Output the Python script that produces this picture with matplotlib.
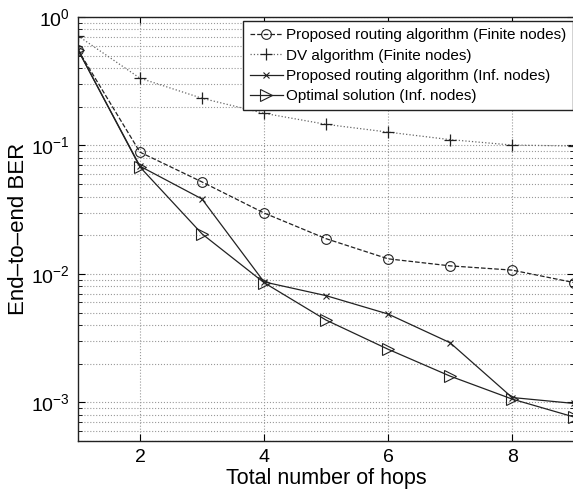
import matplotlib
matplotlib.use("Agg")
import matplotlib.pyplot as plt
from matplotlib.ticker import LogLocator, NullFormatter, FixedLocator

plt.rcParams['font.family'] = ['Liberation Sans', 'DejaVu Sans']
plt.rcParams['mathtext.fontset'] = 'custom'
plt.rcParams['mathtext.rm'] = 'Liberation Sans'

hops = [1, 2, 3, 4, 5, 6, 7, 8, 9]
prop_finite = [0.556, 0.0887, 0.052, 0.0298, 0.0188, 0.0131, 0.01155, 0.0107, 0.00855]
dv_finite = [0.714, 0.334, 0.233, 0.178, 0.146, 0.127, 0.111, 0.1007, 0.099]
prop_inf = [0.556, 0.069, 0.0383, 0.00866, 0.00677, 0.00487, 0.00291, 0.00109, 0.00098]
optimal_inf = [0.556, 0.068, 0.0205, 0.00855, 0.00437, 0.00259, 0.0016, 0.00106, 0.000768]

labels = ["Proposed routing algorithm (Finite nodes)",
          "DV algorithm (Finite nodes)",
          "Proposed routing algorithm (Inf. nodes)",
          "Optimal solution (Inf. nodes)"]
xticks = [2, 4, 6, 8]

fig = plt.figure(figsize=(5.73, 4.92), dpi=100)
ax = fig.add_axes([0.136, 0.1037, 0.866, 0.8617])
c = '#222222'
ax.plot(hops, prop_finite, '--', color=c, lw=0.9, marker='o', ms=7, mfc='none', mec=c, mew=0.8, label=labels[0])
ax.plot(hops, dv_finite, ':', color='#666666', lw=0.9, marker='+', ms=8, mec=c, mew=0.9, label=labels[1])
ax.plot(hops, prop_inf, '-', color=c, lw=0.9, marker='x', ms=5, mec=c, mew=0.8, label=labels[2])
ax.plot(hops, optimal_inf, '-', color=c, lw=0.9, marker='>', ms=8, mfc='none', mec=c, mew=0.8, label=labels[3])

ax.set_yscale('log')
ax.set_xlim(1, 9)
ax.set_ylim(5e-4, 1)
ax.xaxis.set_major_locator(FixedLocator(xticks))
ax.yaxis.set_major_locator(LogLocator(base=10, numticks=10))
ax.yaxis.set_minor_locator(LogLocator(base=10, subs=range(2, 10), numticks=20))
ax.yaxis.set_minor_formatter(NullFormatter())
ax.tick_params(which='both', direction='in', top=True, right=True, labelsize=14)
ax.tick_params(which='major', length=5, pad=6)
ax.tick_params(which='minor', length=3)
ax.grid(True, which='major', ls=':', color='#999999', lw=0.8)
ax.grid(True, which='minor', axis='y', ls=':', color='#999999', lw=0.8)
for s in ax.spines.values():
    s.set_linewidth(1.0)
    s.set_color('#222222')

ax.set_xlabel("Total number of hops", fontsize=15.5, labelpad=1)
ax.set_ylabel("End\u2013to\u2013end BER", fontsize=16, labelpad=1)

leg = ax.legend(loc='upper right', bbox_to_anchor=(0.9985, 0.99), fontsize=11,
                fancybox=False, framealpha=1, edgecolor='#222222',
                handlelength=2.2, handletextpad=0.2, borderpad=0.45,
                labelspacing=0.42, borderaxespad=0.0)
leg.get_frame().set_linewidth(1.0)

fig.savefig("out.png", dpi=100)
